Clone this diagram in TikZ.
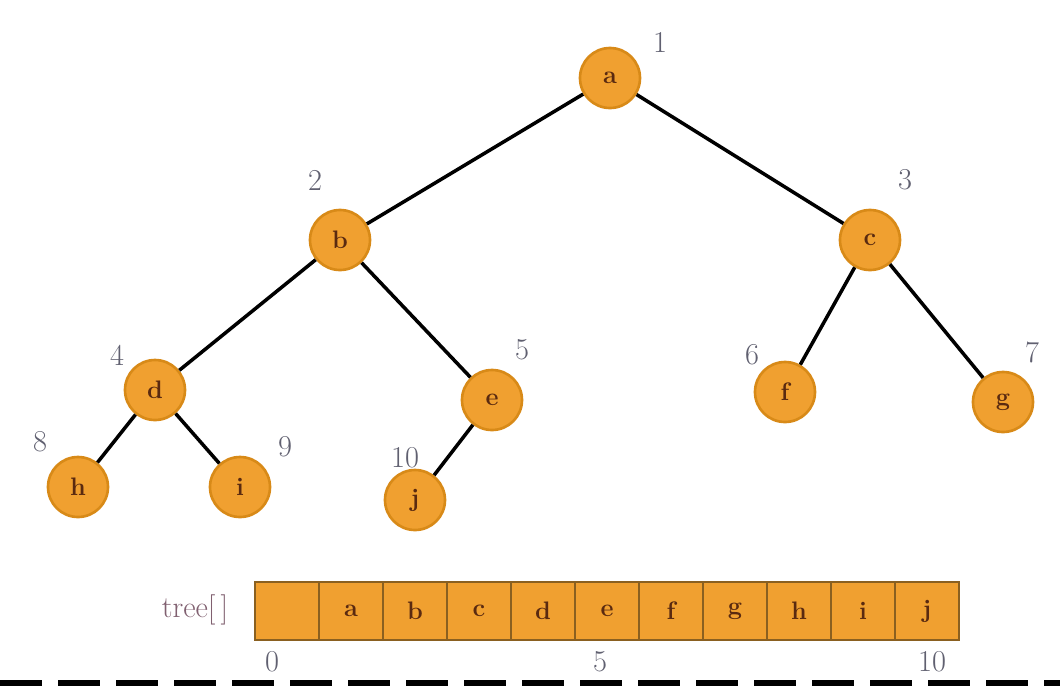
\documentclass[tikz,border=0pt]{standalone}
\usepackage{xcolor}
\definecolor{nodeor}{HTML}{F0A030}
\definecolor{nodeedge}{HTML}{D88A18}
\definecolor{celltxt}{HTML}{5A2A10}
\definecolor{idxgray}{HTML}{606070}
\definecolor{treelbl}{HTML}{806070}
\definecolor{cellline}{HTML}{8A6020}
\tikzset{
  tnode/.style={circle, fill=nodeor, draw=nodeedge, line width=1.5pt, minimum size=12mm, inner sep=0pt, font=\Large\bfseries, text=celltxt},
  idx/.style={font=\LARGE, text=idxgray},
  edge/.style={line width=2pt, black},
  cell/.style={rectangle, fill=nodeor, draw=cellline, line width=0.8pt, minimum width=12.8mm, minimum height=11.6mm, inner sep=0pt, font=\Large\bfseries, text=celltxt},
}
\begin{document}
\begin{tikzpicture}[x=0.2mm,y=-0.2mm]
\useasboundingbox (0,0) rectangle (1060,686);
% tree nodes
\node[tnode] (n1) at (610,78) {a};
\node[tnode] (n2) at (340,240) {b};
\node[tnode] (n3) at (870,240) {c};
\node[tnode] (n4) at (155,390) {d};
\node[tnode] (n5) at (492,400) {e};
\node[tnode] (n6) at (785,392) {f};
\node[tnode] (n7) at (1003,402) {g};
\node[tnode] (n8) at (78,487) {h};
\node[tnode] (n9) at (240,487) {i};
\node[tnode] (n10) at (415,500) {j};
% index labels
\node[idx] (l1) at (660,42) {1};
\node[idx] (l2) at (315,180) {2};
\node[idx] (l3) at (905,180) {3};
\node[idx] (l4) at (117,355) {4};
\node[idx] (l5) at (522,350) {5};
\node[idx] (l6) at (752,355) {6};
\node[idx] (l7) at (1032,352) {7};
\node[idx] (l8) at (40,442) {8};
\node[idx] (l9) at (285,447) {9};
\node[idx] (l10) at (405,458) {10};
% edges
\draw[edge] (n1) -- (n2);
\draw[edge] (n1) -- (n3);
\draw[edge] (n2) -- (n4);
\draw[edge] (n2) -- (n5);
\draw[edge] (n3) -- (n6);
\draw[edge] (n3) -- (n7);
\draw[edge] (n4) -- (n8);
\draw[edge] (n4) -- (n9);
\draw[edge] (n5) -- (n10);
% array
\node[font=\LARGE, text=treelbl] (tl) at (195,610) {tree[\,]};
\node[cell] (c0) at (287,611) {};
\node[cell] (c1) at (351,611) {a};
\node[cell] (c2) at (415,611) {b};
\node[cell] (c3) at (479,611) {c};
\node[cell] (c4) at (543,611) {d};
\node[cell] (c5) at (607,611) {e};
\node[cell] (c6) at (671,611) {f};
\node[cell] (c7) at (735,611) {g};
\node[cell] (c8) at (799,611) {h};
\node[cell] (c9) at (863,611) {i};
\node[cell] (c10) at (927,611) {j};
\node[idx] (i0) at (272,662) {0};
\node[idx] (i5) at (600,662) {5};
\node[idx] (i10) at (932,662) {10};
% dashed bottom line
\coordinate (dl) at (0,683);
\coordinate (dr) at (1060,683);
\draw[line width=1.2mm, dash pattern=on 8.4mm off 3.2mm] (dl) -- (dr);
\end{tikzpicture}
\end{document}
